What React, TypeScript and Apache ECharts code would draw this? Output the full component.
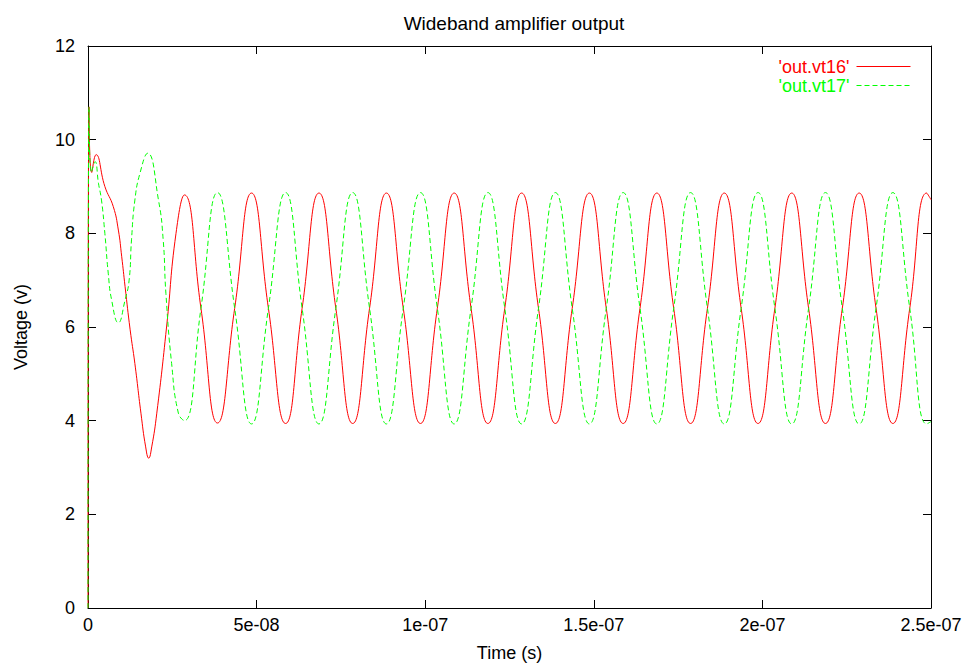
import React, { useEffect, useRef } from "react";
import * as echarts from "echarts";

// Time in nanoseconds, voltage in volts
const redT = [0, 0.3, 1.1, 2.4, 5.0, 7.5, 9.0, 10.0, 11.0, 12.5, 13.9, 15.7, 17.1, 18.0, 18.9, 20.4, 23.3, 26.1, 28.6,
  33.5, 38.4, 43.5, 48.5, 53.5, 58.6, 63.5, 68.5, 73.5, 78.5, 83.5, 88.5, 93.5, 98.6, 103.6, 108.6, 113.6, 118.6,
  123.6, 128.6, 133.6, 138.6, 143.6, 148.7, 153.7, 158.7, 163.7, 168.7, 173.7, 178.7, 183.7, 188.7, 193.7, 198.7,
  203.7, 208.7, 213.7, 218.7, 223.7, 228.7, 233.7, 238.7, 243.7, 248.7, 250];
const redV = [0, 10.7, 9.3, 9.68, 9.0, 8.57, 8.07, 7.5, 6.86, 5.94, 5.22, 4.16, 3.44, 3.2, 3.44, 4.16, 6.0, 8.0, 8.82,
  6.4, 3.95, 6.4, 8.86, 6.4, 3.94, 6.4, 8.86, 6.4, 3.94, 6.4, 8.86, 6.4, 3.94, 6.4, 8.86, 6.4, 3.94,
  6.4, 8.86, 6.4, 3.94, 6.4, 8.86, 6.4, 3.94, 6.4, 8.86, 6.4, 3.94, 6.4, 8.86, 6.4, 3.94,
  6.4, 8.86, 6.4, 3.94, 6.4, 8.86, 6.4, 3.94, 6.4, 8.86, 8.72];

const greenT = [0, 0.3, 1.0, 2.1, 3.1, 4.0, 5.0, 6.0, 7.0, 9.0, 11.0, 12.2, 12.9, 13.9, 15.4, 17.7,
  20.9, 22.3, 23.1, 24.8, 26.8, 28.6,
  33.5, 38.4, 43.5, 48.5, 53.5, 58.6, 63.5, 68.5, 73.5, 78.5, 83.5, 88.5, 93.5, 98.6, 103.6, 108.6, 113.6, 118.6,
  123.6, 128.6, 133.6, 138.6, 143.6, 148.7, 153.7, 158.7, 163.7, 168.7, 173.7, 178.7, 183.7, 188.7, 193.7, 198.7,
  203.7, 208.7, 213.7, 218.7, 223.7, 228.7, 233.7, 238.7, 243.7, 248.7, 250];
const greenV = [0, 10.7, 9.3, 9.53, 9.07, 8.71, 8.0, 7.15, 6.58, 6.09, 6.58, 7.0, 7.86, 8.71, 9.28, 9.71,
  8.71, 7.86, 6.72, 5.22, 4.16, 4.0,
  6.4, 8.87, 6.4, 3.93, 6.4, 8.87, 6.4, 3.93, 6.4, 8.87, 6.4, 3.93, 6.4, 8.87, 6.4, 3.93, 6.4, 8.87,
  6.4, 3.93, 6.4, 8.87, 6.4, 3.93, 6.4, 8.87, 6.4, 3.93, 6.4, 8.87, 6.4, 3.93, 6.4, 8.87,
  6.4, 3.93, 6.4, 8.87, 6.4, 3.93, 6.4, 8.87, 6.4, 3.93, 3.98];

const xTickLabels = ["0", "5e-08", "1e-07", "1.5e-07", "2e-07", "2.5e-07"];
const seriesNames = ["'out.vt16'", "'out.vt17'"];
const colors = ["#ff0000", "#00ff00"];

const FONT = "Liberation Sans";

export default function App() {
  const ref = useRef<HTMLDivElement>(null);
  useEffect(() => {
    if (!ref.current) return;
    const chart = echarts.init(ref.current, undefined, { renderer: "svg" });
    const pairs = (t: number[], v: number[]) => t.map((x, i) => [x, v[i]]);
    const tickStyle = { inside: true, length: 8, lineStyle: { color: "#000", width: 1 } };
    const lineStyleAxis = { show: true, onZero: false, lineStyle: { color: "#000", width: 1 } };
    const labelStyle = { color: "#000", fontFamily: FONT, fontSize: 18 };
    chart.setOption({
      animation: false,
      backgroundColor: "#fff",
      title: {
        text: "Wideband amplifier output",
        left: 509,
        textAlign: "center",
        top: 9,
        textStyle: { color: "#000", fontFamily: FONT, fontSize: 19, fontWeight: "normal" },
      },
      legend: {
        orient: "vertical",
        right: 54,
        top: 52,
        align: "right",
        itemWidth: 54,
        itemHeight: 10,
        itemGap: 0,
        itemStyle: { opacity: 0 },
        lineStyle: { width: 1 },
        textStyle: { fontFamily: FONT, fontSize: 18, lineHeight: 19, padding: [0, 2, 0, 0] },
        data: seriesNames.map((n, i) => ({ name: n, textStyle: { color: colors[i] } })),
      },
      grid: { left: 88, right: 39, top: 46, bottom: 61 },
      xAxis: [
        {
          type: "value",
          min: 0,
          max: 250,
          interval: 50,
          name: "Time (s)",
          nameLocation: "middle",
          nameGap: 36,
          nameTextStyle: labelStyle,
          axisLine: lineStyleAxis,
          axisTick: tickStyle,
          splitLine: { show: false },
          axisLabel: {
            ...labelStyle,
            margin: 8,
            formatter: (v: number) => xTickLabels[Math.round(v / 50)] ?? "",
          },
        },
        {
          type: "value",
          position: "top",
          min: 0,
          max: 250,
          interval: 50,
          axisLine: lineStyleAxis,
          axisTick: tickStyle,
          axisLabel: { show: false },
          splitLine: { show: false },
        },
      ],
      yAxis: [
        {
          type: "value",
          min: 0,
          max: 12,
          interval: 2,
          name: "Voltage (v)",
          nameLocation: "middle",
          nameGap: 58,
          nameTextStyle: labelStyle,
          axisLine: lineStyleAxis,
          axisTick: tickStyle,
          splitLine: { show: false },
          axisLabel: { ...labelStyle, margin: 13 },
        },
        {
          type: "value",
          position: "right",
          min: 0,
          max: 12,
          interval: 2,
          axisLine: lineStyleAxis,
          axisTick: tickStyle,
          axisLabel: { show: false },
          splitLine: { show: false },
        },
      ],
      series: [
        {
          name: seriesNames[0],
          type: "line",
          data: pairs(redT, redV),
          smooth: true,
          symbol: "none",
          color: colors[0],
          lineStyle: { color: colors[0], width: 1 },
        },
        {
          name: seriesNames[1],
          type: "line",
          data: pairs(greenT, greenV),
          smooth: true,
          symbol: "none",
          color: colors[1],
          lineStyle: { color: colors[1], width: 1, type: [5, 3] },
        },
      ],
    });
    return () => chart.dispose();
  }, []);
  return (
    <div
      ref={ref}
      style={{ position: "fixed", left: 0, top: 0, width: 970, height: 669, background: "#fff" }}
    />
  );
}
